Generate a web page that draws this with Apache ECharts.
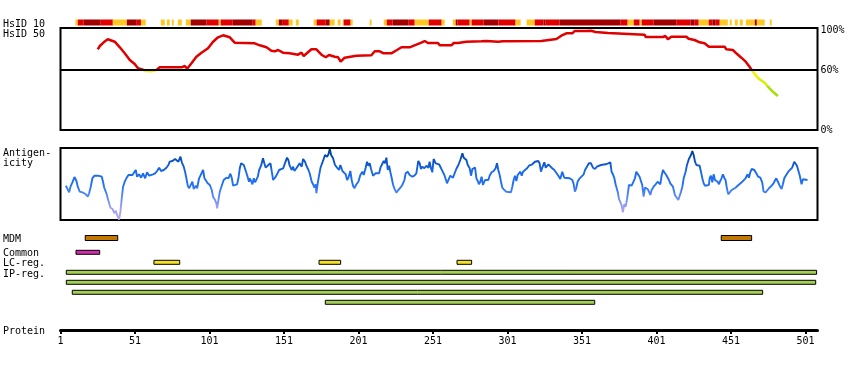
<!DOCTYPE html>
<html><head><meta charset="utf-8">
<script src="https://cdn.jsdelivr.net/npm/echarts@6/dist/echarts.min.js"></script>
<style>html,body{margin:0;padding:0;background:#fff}#c{width:850px;height:370px}</style>
</head><body><div id="c"></div><script>
// ---------------- DATA ----------------
const tickLabels = [1, 51, 101, 151, 201, 251, 301, 351, 401, 451, 501];
const identityTickLabels = [0, 60, 100];

// HsID 10 track: segment start / end residue, level (0 = low, 1 = mid, 2 = high)
const hsid10Start = [11,12.6,16.6,28,36.1,45.5,52.2,55,68.3,72.4,75.7,79.7,85.1,88.4,99.1,107.2,108.5,116.6,130,132,145.5,147.5,150.2,154.2,158.9,170.9,172.9,179,181.7,187,190.4,191,195.7,208.5,217.9,219.9,223.9,234.7,238.7,248.1,256.8,264.2,266.2,267.5,275.6,276.9,285,295,306.4,313.8,319.2,325.2,326.6,336,376.9,381.6,385.7,389.7,391,399.1,414.5,423.9,426.6,429.3,436,438.7,440.7,443.4,450.1,453.5,456.8,460.9,466.9,468.3,477];
const hsid10End   = [12.6,16.6,28,36.1,45.5,52.2,55,58.2,71,74.3,77,82.4,88.4,99.1,107.2,108.5,116.6,130,132,136.1,147.5,150.2,154.2,156.8,160.9,172.9,179,181.7,185,189,191,195.7,197.1,209.8,219.9,223.9,234.7,238.7,248.1,256.8,258.8,266.2,267.5,275.6,276.9,285,295,306.4,309.8,319.2,325.2,326.6,336,376.9,381.6,385.7,389.7,391,399.1,414.5,423.9,426.6,429.3,436,438.7,440.7,443.4,448.8,451.5,455.5,458.9,466.9,468.3,473.6,478.3];
const hsid10Level = [0,1,2,1,0,2,1,0,0,0,0,0,0,2,1,0,1,2,1,0,0,2,1,0,0,0,1,2,0,0,0,1,0,0,0,1,2,1,0,1,0,0,2,1,0,1,2,1,0,0,1,2,1,2,1,0,1,0,1,2,1,2,1,0,1,2,1,0,0,0,0,0,2,0,0];

// HsID 50 identity (%)
const identityPos = [26,27.4,30,32.7,37.4,40.8,44.1,47.5,50.8,53,55.3,58.7,62,65.4,67.6,72.1,77.7,78.8,82.2,84.4,86,88.9,92.2,95.6,100,103.4,106.7,110.1,114.6,117.9,131.3,134.7,139.2,142.5,144.8,147,150.3,154.8,160.4,162.7,164.2,169.4,172.7,176.1,179,181.2,185,187.3,189,191.7,199.6,209.6,211.9,215.2,217.9,223,224.1,226.8,229.8,235.3,236.5,239.8,243.2,245.4,247.6,254.3,255.5,263.3,264.9,267.8,268.9,273.4,274.5,283.4,284.5,286.8,294.6,295.7,297.9,323.7,324.8,333.8,337.1,340.5,344.5,346,349.4,353.5,354.6,357.2,360,360.6,368.4,369,393,393.7,405.3,406.9,408.6,410.9,421,422.5,426.5,429.9,433.2,436.1,446.7,447.8,452.2,454.5,457.9,460.8,463.4,465.2,467.9,470.1,473.5,476.8,479.5,482.4];
const identityVal = [80.7,84,87.7,90.7,88.3,82.7,76.7,70,66,61.7,60.7,59,58.7,60,62.7,62.7,62.7,60.7,62.7,64,61.3,66.7,73.3,77.3,81.7,88.3,92.7,94.7,92.7,87.3,86.7,84.7,82.7,79.3,78.7,80,77.3,76.7,75.3,77.3,74,80.7,80.7,75.3,72.7,75,73.3,72.7,68.3,72.3,74.3,74.7,78.7,78.7,76.7,76.7,74.7,80,82.7,82.7,81.3,85.3,87.3,89,87,87,84.7,84.7,87,87,89,88.3,89,88.7,86.7,89,88.3,86.7,88.7,89,91,91,94.3,96.7,96.7,99,99,99,98,99.3,98,97,97,95.3,95.3,93,93,94,90.7,93.3,93.3,91.3,90,87.7,86.7,83.3,83.3,80.7,80,76.7,72.3,68.3,63.3,59.3,54,50.7,47.3,41.7,37.7,34];

// Antigenicity profile
const antigenPos = [4.6,5.9,6.8,7.7,9,10.4,11.7,12.6,13.9,16.2,18,19.3,20.2,21.3,22.4,23.8,26.2,28.7,29.6,30.3,31.8,33.2,34.5,35.9,37.2,38.1,39,39.9,40.3,41.2,42.1,43,44.1,45.2,46.6,47.9,49.3,50.6,51.5,52.4,53.7,55.1,56.4,57.8,59.1,60.5,61.8,63.1,64.5,65.8,67.2,68.5,70.3,72.1,73.4,74.3,76.1,77.9,78.8,80.1,81.5,82.4,83.7,84.6,85.5,86.4,87.3,88.6,89.5,90.4,91.8,92.7,94,95.3,96.7,97.6,98.9,99.8,101.2,102.5,103.4,104.7,105.6,106.1,107,107.9,109.2,110.5,112.3,113.7,115,115.9,116.8,118.1,119.5,120.4,121.3,122.2,123.1,124,124.9,126.2,127.5,
128,128.9,129.8,130.7,131.6,132.5,133.4,134.3,135.6,136.9,137.8,138.7,139.6,140.5,141.9,142.8,143.7,145,146.3,147.7,149,150.4,151.7,153,153.9,154.8,156.2,157.1,158,159.3,160.6,161.5,162.9,163.8,165.1,166,167.4,168.2,169.6,170.5,171.4,172.3,172.7,173.6,174.5,175.4,176.3,177.6,178.5,179.9,180.8,181.7,182.6,183.9,185.2,186.6,187.9,188.8,190.2,191.5,192.4,193.3,194.2,195.5,196.4,197.3,198.2,199.6,200.9,202.2,203.6,204.5,205.8,206.7,207.6,208.5,209.4,210.7,212.5,214.8,215.7,216.5,217.9,218.8,219.7,220.6,221.5,222.4,223.3,224.1,225,226.4,227.7,229.1,230.4,231.8,232.6,234,235.3,237.1,238.5,239.8,241.1,242,242.9,243.8,245.2,246.5,247.9,248.7,249.6,250.5,251.4,252.8,254.1,255,
255.5,256.4,257.7,258.6,259.5,260.4,261.3,262.6,264.4,265.7,266.6,268,269.3,270.2,270.7,271.6,272.5,273.4,274.3,275.6,276.5,277.4,278.3,279.2,280.1,281,281.8,282.7,283.6,284.5,285.9,286.8,288.1,289,290.3,291.7,293,293.9,294.8,295.7,296.6,297.5,298.8,300.2,301.5,303.3,304.2,305.1,306,306.9,307.8,308.7,309.6,310.5,311.4,312.7,314.1,315.4,316.3,317.6,319.4,320.3,321.6,322.5,323.4,324.3,325.7,326.6,327.5,328.4,329.7,331,332.4,333.7,335.1,336.4,337.7,339.1,340.4,342.7,344.5,345.4,346.2,347.1,348,349.4,350.7,352.1,353,354.3,355.6,357,358.3,359.7,361,362.3,363.7,365,366.8,368.6,370,370.8,371.7,372.6,373.5,374.9,375.8,376.7,377.5,378.4,379.3,380.2,381.1,382.5,
384.3,385.6,386.5,387.4,388.7,389.6,390.5,391.4,392.3,393.2,394.1,395,395.9,396.8,397.7,399,400.4,401.7,402.6,403.5,404.4,405.3,406.2,407.5,408.4,409.3,410.2,411.1,412,413.3,414.2,415.6,416.5,417.4,418.3,419.2,420.5,421.4,422.7,424.1,425,425.9,426.8,427.7,428.5,429.9,430.8,431.7,432.6,433.5,434.8,436.1,436.6,437.5,438.4,439.3,440.2,441.1,442,442.9,443.7,444.6,445.5,446.4,447.3,448.2,449.1,450,451.4,452.7,454,455.4,456.7,458.1,459.4,460.7,462.1,463,463.9,464.8,466.6,467.9,469.2,470.6,471.9,472.8,474.2,475.5,476.8,478.2,479.5,481.3,482.2,483.6,484.9,485.8,486.7,488,489.4,490.7,492,493.4,494.3,495.2,496.1,497,498.3,499.2,500.5,502.3];
const antigenVal = [34.3,32.3,27.7,33.3,37.7,43,39,33.3,28.3,27.3,25.7,23.3,26.7,33.3,41.7,44.3,44.3,43.3,37.7,32.7,26.7,19,12.3,11,6.7,9.3,5,3.3,0.5,8.3,21.7,33.3,38.3,41.7,45,43.3,45,44.3,50,43.3,45.7,42.3,46.7,41.7,47.7,44.3,43.3,45.7,46.7,49,52.3,49,50,52.3,55,58.3,59,61,62.3,58.3,63.3,57.7,53.3,48.3,41.7,34.3,31.7,33.3,38.3,31,34.3,31.7,41.7,45.7,50,41.7,42.3,36.7,35,30,23.3,20,16.7,11.7,20,28.3,34.3,40,42.3,41.7,46.3,42.3,34.3,33,35.7,41.7,51.7,56.7,57.3,55,51,45,38.3,
41.7,39,35.7,41.7,37.7,35.7,43.3,50,54.3,61.7,56.7,52.3,51,55,56.7,48.3,40,42.3,45.7,50,51,51.7,53.3,62.3,60,54.3,50,53.3,49,51.7,53.3,56.7,53.3,61,58.3,54.3,50,46.7,38.3,35.7,32.3,35.7,26.7,36.7,44.3,51.7,55.7,61,65,63.3,65.7,71,65,61.7,55,52.3,50,55,49,50,45.7,40,42.3,49,40,34.3,31.7,35.7,38.3,45,48.3,45,52.3,58.3,54.3,56.7,51,44.3,46.7,46.7,52.3,54.3,59,56.7,62.3,50,54.3,47.7,41.7,35.7,31.7,27.3,30,32.3,35,40,46.7,48.3,45,43.3,44.3,46.7,59,56.7,51,53.3,51.7,54.3,52.3,58.3,51.7,47.7,61,56.7,58.3,55.7,
54.3,51.7,51,45,46.7,36.7,40,44.3,42.3,43.3,51,55,60,61.7,66.7,62.3,63.3,60,55,51.7,44.3,51,49,52.3,41.7,39,35.7,38.3,43.3,35,40,41.7,40,44.3,47.7,49,51.7,56.7,50,45,38.3,32.3,30,28.3,26.7,27.7,33.3,40,44.3,39,45,43.3,48.3,44.3,48.3,46.7,51.7,54.3,55.7,55.7,58.3,60,59,56.7,48.3,52.3,57.7,52.3,51.7,55.7,54.3,51.7,50,48.3,44.3,41,48.3,42.3,41.7,41.7,40,35.7,28.3,31.7,38.3,41.7,43.3,45.7,50,51.7,56.7,56.7,52.3,51,53.3,52.3,55,55,55.7,56.7,57.7,48.3,45.7,42.3,35.7,28.3,21,20,15,7.7,15.7,13.3,20,35,
34.3,35.7,41.7,48.3,46.7,43.3,41.7,35,23.3,32.3,33.3,31,28.3,25,30,33.3,35.7,38.3,40,35.7,44.3,50,47.7,45,45.7,40,36.7,37.7,33.3,25,24.3,20,21.7,28.3,33.3,41.7,48.3,55,61,65,69,65,58.3,55,56.7,54.3,48.3,41.7,36.7,34.3,32.3,35,41.7,44.3,37.7,45.7,40,41.7,38.3,35.7,39,41.7,45.7,42.3,40,31.7,25.7,25,30,28.3,32.3,34.3,35,37.7,39,41.7,45.7,42.3,47.7,51,50,46.7,43.3,42.3,37.7,28.3,27.7,30,32.3,34.3,36.7,41.7,39,34.3,31,35.7,41.7,45,48.3,47.7,52.3,58.3,59.3,54.3,53.3,45,35.7,40.7,41.7,40];

// Feature tracks (residue ranges)
const mdmStart = [17.6, 444.4];
const mdmEnd   = [39.4, 464.8];
const commonStart = [11.4];
const commonEnd   = [27.3];
const lcStart = [63.7, 174.5, 267.1];
const lcEnd   = [81.0, 189.0, 276.9];
const ipStart = [4.9, 4.9, 8.9, 178.7];
const ipEnd   = [508.4, 507.8, 472.2, 359.5];

// ---------------- LAYOUT / STYLE ----------------
const LEFT = 60.5, WIDTH = 757, XMIN = 1, XMAX = 509;
const FONT = '"DejaVu Sans Mono", monospace';
const levelColors = ['#fdc823', '#e00000', '#a00000'];
const featStyle = {
  MDM:    { color: '#c27800', h: 5, lane: -0.43 },
  Common: { color: '#d22cac', h: 4, lane: 1 },
  LC:     { color: '#f6e224', h: 4, lane: 2 },
  IP:     { color: '#a3cf55', h: 4, lane: 3 }
};

// ---------------- BUILD ----------------
const zip = (a, b) => a.map((v, i) => [v, b[i]]);
const hsid10Data = hsid10Start.map((s, i) => [s, hsid10End[i], hsid10Level[i]]);
const features = [];
const kinds = ['MDM', 'Common', 'LC', 'IP'];
mdmStart.forEach((s, i) => features.push([s, mdmEnd[i], featStyle.MDM.lane, 0]));
commonStart.forEach((s, i) => features.push([s, commonEnd[i], featStyle.Common.lane, 1]));
lcStart.forEach((s, i) => features.push([s, lcEnd[i], featStyle.LC.lane, 2]));
ipStart.forEach((s, i) => features.push([s, ipEnd[i], featStyle.IP.lane + i, 3]));

const hiddenX = (gi) => ({ type: 'value', gridIndex: gi, min: XMIN, max: XMAX, show: false });

const chart = echarts.init(document.getElementById('c'), null, { renderer: 'canvas' });
chart.setOption({
  animation: false,
  backgroundColor: '#fff',
  textStyle: { fontFamily: FONT },
  grid: [
    { left: LEFT, width: WIDTH, top: 19.5, height: 6, show: false, containLabel: false },
    { left: LEFT, width: WIDTH, top: 28, height: 102, show: true, borderColor: '#000', borderWidth: 2, backgroundColor: 'transparent', containLabel: false },
    { left: LEFT, width: WIDTH, top: 148, height: 72, show: true, borderColor: '#000', borderWidth: 2, backgroundColor: 'transparent', containLabel: false },
    { left: LEFT, width: WIDTH, top: 225, height: 105, show: false, containLabel: false }
  ],
  xAxis: [
    hiddenX(0), hiddenX(1), hiddenX(2),
    { type: 'value', gridIndex: 3, min: XMIN, max: XMAX, position: 'bottom',
      axisLine: { show: true, onZero: false, lineStyle: { color: '#000', width: 3 } },
      axisTick: { show: true, customValues: tickLabels, length: 4, lineStyle: { color: '#000', width: 2 } },
      axisLabel: { show: true, customValues: tickLabels, margin: 6, color: '#000', fontSize: 10, fontFamily: FONT },
      splitLine: { show: false } }
  ],
  yAxis: [
    { type: 'value', gridIndex: 0, min: 0, max: 1, show: false },
    { type: 'value', gridIndex: 1, min: 0, max: 102, position: 'right',
      axisLine: { show: false }, axisTick: { show: false }, splitLine: { show: false },
      axisLabel: { show: true, customValues: identityTickLabels, formatter: v => v + '%', margin: 3, padding: [3, 0, 0, 0], color: '#000', fontSize: 10, fontFamily: FONT } },
    { type: 'value', gridIndex: 2, min: 0, max: 72, show: false },
    { type: 'value', gridIndex: 3, min: -1.73, max: 8.77, inverse: true, show: false }
  ],
  visualMap: [
    { type: 'piecewise', show: false, seriesIndex: 2, dimension: 1,
      pieces: [
        { lt: 44, color: '#a6e000' },
        { gte: 44, lt: 52, color: '#d6f000' },
        { gte: 52, lt: 60, color: '#f6f000' },
        { gte: 60, color: '#e00000' }
      ] },
    { type: 'continuous', show: false, seriesIndex: 3, dimension: 1, min: 0, max: 72,
      inRange: { color: ['#b4a8f0', '#a0a0f0', '#5888f8', '#2070f0', '#1a6ae8', '#0a50c0', '#003a88'] } }
  ],
  series: [
    { type: 'custom', xAxisIndex: 0, yAxisIndex: 0, data: hsid10Data, encode: { x: [0, 1] }, silent: true,
      renderItem: (params, api) => {
        const p0 = api.coord([api.value(0), 1]);
        const p1 = api.coord([api.value(1), 0]);
        return { type: 'rect', shape: { x: p0[0], y: p0[1], width: p1[0] - p0[0], height: p1[1] - p0[1] },
                 style: { fill: levelColors[api.value(2)] } };
      } },
    { type: 'line', xAxisIndex: 1, yAxisIndex: 1, data: [], z: 1, silent: true,
      markLine: { silent: true, symbol: 'none', label: { show: false },
                  lineStyle: { color: '#000', width: 2, type: 'solid' }, data: [{ yAxis: 60 }] } },
    { type: 'line', xAxisIndex: 1, yAxisIndex: 1, data: zip(identityPos, identityVal), z: 3,
      showSymbol: false, symbol: 'none', lineStyle: { width: 2.5 }, silent: true },
    { type: 'line', xAxisIndex: 2, yAxisIndex: 2, data: zip(antigenPos, antigenVal), z: 3,
      showSymbol: false, symbol: 'none', lineStyle: { width: 1.9 }, silent: true },
    { type: 'custom', xAxisIndex: 3, yAxisIndex: 3, data: features, encode: { x: [0, 1] }, silent: true,
      renderItem: (params, api) => {
        const st = featStyle[kinds[api.value(3)]];
        const p0 = api.coord([api.value(0), api.value(2)]);
        const p1 = api.coord([api.value(1), api.value(2)]);
        return { type: 'rect', shape: { x: p0[0], y: p0[1] - st.h / 2, width: p1[0] - p0[0], height: st.h },
                 style: { fill: st.color, stroke: '#000', lineWidth: 1 } };
      } }
  ],
  graphic: [
    ['HsID 10', 22.7], ['HsID 50', 32.7], ['Antigen-', 152.3], ['icity', 162.3],
    ['MDM', 238], ['Common', 252.3], ['LC-reg.', 261.8], ['IP-reg.', 272.8], ['Protein', 329.8]
  ].map(([t, y]) => ({ type: 'text', left: 3, top: y - 3.5, silent: true,
      style: { text: t, fill: '#000', font: '10px ' + FONT } }))
});
</script></body></html>
